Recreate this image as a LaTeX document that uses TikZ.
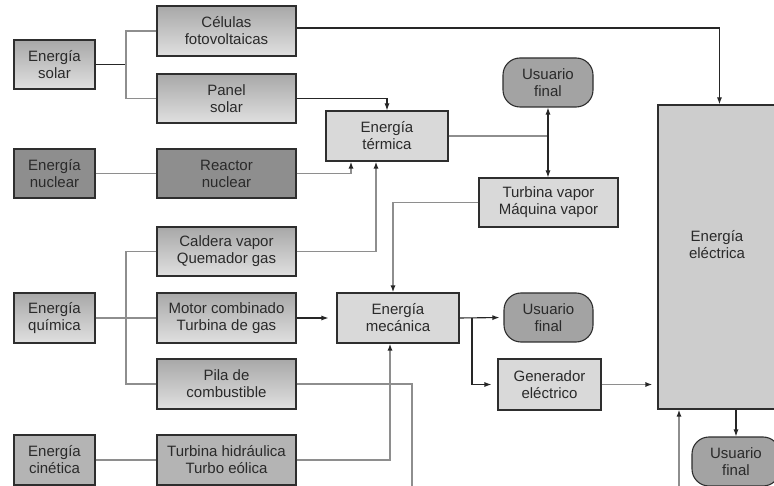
\documentclass[tikz,border=0pt]{standalone}
\usepackage{fontspec}
\setmainfont{Liberation Sans}
\usetikzlibrary{arrows.meta,calc}

\definecolor{edge}{HTML}{2E2E2E}
\definecolor{txt}{HTML}{2A2A2A}
\definecolor{srcTop}{HTML}{A8A8A8}
\definecolor{srcBot}{HTML}{E0E0E0}
\definecolor{nucFill}{HTML}{8E8E8E}
\definecolor{kinFill}{HTML}{B4B4B4}
\definecolor{midFill}{HTML}{D9D9D9}
\definecolor{eleFill}{HTML}{CDCDCD}
\definecolor{userFill}{HTML}{A3A3A3}
\definecolor{lineGray}{HTML}{8E8E8E}
\definecolor{lineDark}{HTML}{262626}

\tikzset{
  basebox/.style={draw=edge, line width=1.1pt, text=txt, align=center, inner sep=0pt,
    font=\fontsize{15}{17}\selectfont},
  srcbox/.style={basebox, top color=srcTop, bottom color=srcBot},
  nucbox/.style={basebox, fill=nucFill},
  kinbox/.style={basebox, fill=kinFill},
  midbox/.style={basebox, fill=midFill},
  elebox/.style={basebox, fill=eleFill},
  userbox/.style={basebox, fill=userFill, rounded corners=17pt},
  gline/.style={draw=lineGray, line width=1.4pt},
  bline/.style={draw=lineDark, line width=1.1pt},
  tip/.style={-{Latex[length=7pt,width=5pt,color=lineDark]}},
  dtip/.style={{Latex[length=7pt,width=5pt,color=lineDark]}-{Latex[length=7pt,width=5pt,color=lineDark]}},
}

\begin{document}
\begin{tikzpicture}[x=1pt,y=-1pt]
\useasboundingbox (0,0) rectangle (774,486);
\fill[white] (0,0) rectangle (774,486);

% energy sources
\node[srcbox, minimum width=81pt, minimum height=49pt] (sol) at (54.5,64.5) {Energía\\solar};
\node[nucbox, minimum width=81pt, minimum height=49pt] (nuc) at (54.5,173.5) {Energía\\nuclear};
\node[srcbox, minimum width=81pt, minimum height=50pt] (qui) at (54.5,318) {Energía\\química};
\node[kinbox, minimum width=81pt, minimum height=50pt] (cin) at (54.5,460) {Energía\\cinética};

% converters
\node[srcbox, minimum width=139pt, minimum height=50pt] (cel) at (226.5,31) {Células\\fotovoltaicas};
\node[srcbox, minimum width=139pt, minimum height=49pt] (pan) at (226.5,98.5) {Panel\\solar};
\node[nucbox, minimum width=139pt, minimum height=49pt] (rea) at (226.5,173.5) {Reactor\\nuclear};
\node[srcbox, minimum width=139pt, minimum height=49pt] (cal) at (226.5,251.5) {Caldera vapor\\Quemador gas};
\node[srcbox, minimum width=139pt, minimum height=50pt] (mot) at (226.5,318) {Motor combinado\\Turbina de gas};
\node[srcbox, minimum width=139pt, minimum height=50pt] (pil) at (226.5,384) {Pila de\\combustible};
\node[kinbox, minimum width=139pt, minimum height=50pt] (tur) at (226.5,460) {Turbina hidráulica\\Turbo eólica};

% intermediate forms
\node[midbox, minimum width=122pt, minimum height=50pt] (ter) at (387,136) {Energía\\térmica};
\node[midbox, minimum width=122pt, minimum height=50pt] (mec) at (398,318) {Energía\\mecánica};
\node[midbox, minimum width=139pt, minimum height=49pt] (tv) at (548.5,202.5) {Turbina vapor\\Máquina vapor};
\node[midbox, minimum width=103pt, minimum height=51pt] (gen) at (549.5,384.5) {Generador\\eléctrico};
\node[elebox, minimum width=118pt, minimum height=304pt,
      label={[align=center, text=txt, font=\fontsize{15}{17}\selectfont, yshift=12pt]center:{Energía\\eléctrica}}]
      (ele) at (717,257) {};

% end users
\node[userbox, minimum width=90pt, minimum height=49pt] (uf1) at (548,82.5) {Usuario\\final};
\node[userbox, minimum width=89pt, minimum height=49pt] (uf2) at (548.5,317.5) {Usuario\\final};
\node[userbox, minimum width=88pt, minimum height=49pt] (uf3) at (736,461.5) {Usuario\\final};

% junctions and loose ends
\coordinate (js) at ($(sol.east)!0.5!(cel.west |- sol.east)$);
\coordinate (jq) at ($(qui.east)!0.5!(mot.west)$);
\coordinate (jm) at (472,318);
\coordinate (pilEnd) at (412,492);
\coordinate (feedEnd) at (679,492);

% solar branch
\draw[bline] (sol.east) -- (js);
\draw[gline] (cel.west) -| (js) |- (pan.west);
\draw[bline, tip] ([yshift=3pt]cel.east) -| ([xshift=62pt]ele.north west);
\draw[bline, tip] (pan.east) -| (ter.north);

% nuclear branch
\draw[gline] (nuc.east) -- (rea.west);
\draw[gline, tip] (rea.east) -| ([xshift=-36pt]ter.south);

% chemical branch
\draw[gline] (qui.east) -- (mot.west);
\draw[gline] (cal.west) -| (jq) |- (pil.west);
\draw[gline, tip] (cal.east) -| ([xshift=-11pt]ter.south);
\draw[bline, tip, shorten >=8pt] (mot.east) -- (mec.west);
\draw[gline] (pil.east) -| (pilEnd);

% kinetic branch
\draw[gline] (cin.east |- tur.west) -- (tur.west);
\draw[gline, tip] (tur.east) -| ([xshift=-8pt]mec.south);

% thermal energy
\draw[gline] (ter.east) -- (ter.east -| uf1.south);
\draw[bline, dtip] (uf1.south) -- (uf1.south |- tv.north);
\draw[gline, tip] (tv.west) -| ([xshift=-5pt]mec.north);

% mechanical energy
\draw[bline, tip, shorten >=4pt] (mec.east) -- (uf2.west);
\draw[bline, tip, shorten >=6pt] (jm) |- (gen.west);

% electrical energy
\draw[gline, tip, shorten >=5pt] (gen.east) -- (gen.east -| ele.west);
\draw[bline, tip] (uf3.north |- ele.south) -- (uf3.north);
\draw[gline, tip] (feedEnd) -- (feedEnd |- ele.south);
\end{tikzpicture}
\end{document}
